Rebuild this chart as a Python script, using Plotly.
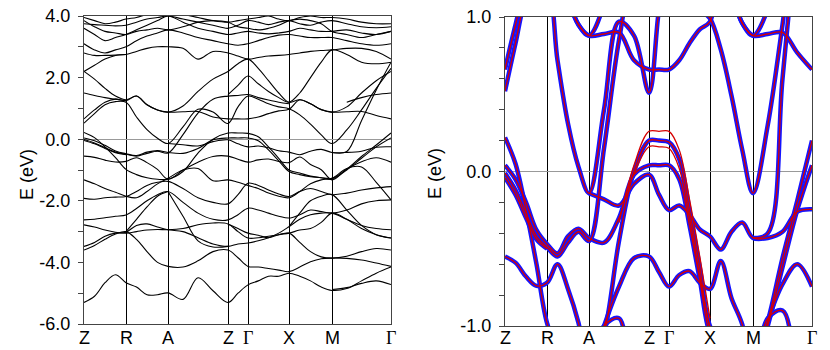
import plotly.graph_objects as go

# ---------------------------------------- K PATH -------------------------------------------------

k_sym = [0, 42, 84, 144, 164, 205, 248, 307]
k_labels = ["Z", "R", "A", "Z", "Γ", "X", "M", "Γ"]

k_grid = [0, 10.5, 21, 31.5, 42, 52.5, 63, 73.5, 84, 99, 114, 129, 144, 154, 164,
          174.25, 184.5, 194.75, 205, 215.75, 226.5, 237.25, 248, 262.75, 277.5, 292.25, 307]

# ---------------------------------------- BANDS (eV) ---------------------------------------------
#            Z     .     .     .     R     .     .     .     A     .     .     .     Z     .     G     .     .     .     X     .     .     .     M     .     .     .     G
band_c1 = [0.66, 0.95, 1.2, 1.3, 1.25, 1.4, 1.12, 0.95, 0.88, 0.89, 0.9, 0.72, 0.66, 0.66, 0.66, 0.72, 0.83, 0.92, 0.97, 1.28, 1.15, 0.96, 0.88, 0.89, 0.9, 0.77, 0.66]
band_c2 = [0.52, 0.83, 1.12, 1.22, 1.2, 0.72, 0.31, 0.03, -0.14, 0.4, 0.97, 0.88, 0.51, 1.05, 1.4, 1.3, 1.15, 1.05, 0.99, 0.79, 0.49, 0.14, -0.14, 0.3, 0.95, 1.65, 2.3]
band_c3 = [2.2, 1.95, 1.65, 1.4, 1.28, 1.4, 1.12, 0.95, 0.88, 1.08, 1.55, 1.95, 2.2, 2.45, 2.6, 2.3, 1.9, 1.5, 1.2, 1.28, 1.15, 0.96, 0.88, 1.05, 1.5, 1.9, 2.2]
band_v1 = [0.22, 0.05, -0.25, -0.6, -0.98, -1.15, -1.25, -1.3, -1.3, -1.05, -0.45, 0.0, 0.2, 0.2, 0.19, 0.08, -0.25, -0.62, -1.0, -1.1, -1.2, -1.25, -1.27, -0.97, -0.56, -0.19, 0.2]
band_v2 = [0.04, -0.05, -0.2, -0.38, -0.47, -0.53, -0.42, -0.37, -0.43, -0.46, -0.3, -0.02, 0.04, 0.04, 0.04, -0.05, -0.35, -0.7, -1.05, -1.15, -1.22, -1.25, -1.3, -1.0, -0.62, -0.25, 0.04]
band_v3 = [-0.01, -0.12, -0.27, -0.42, -0.49, -0.55, -0.46, -0.39, -0.45, 0.15, 0.85, 1.3, 1.4, 1.42, 1.45, 1.35, 1.27, 1.2, 1.15, None, None, None, -0.43, -0.4, 0.6, 1.6, 2.5]
band_v4 = [-0.04, -0.15, -0.3, -0.44, -0.5, None, None, None, -0.14, -0.18, -0.22, -0.08, -0.02, -0.15, -0.25, -0.22, -0.28, -0.375, -0.42, -0.505, -0.39, -0.33, -0.43, -0.43, -0.39, -0.26, -0.245]
band_v5 = [-0.55, -0.59, -0.68, -0.74, -0.72, -0.6, -0.76, -0.98, -1.3, -1.0, -0.745, -0.56, -0.55, -0.65, -0.745, -0.67, -0.645, -0.72, -0.76, -0.58, -0.82, -0.99, -1.32, -0.97, -0.73, -0.6, -0.745]

band_l1 = [-5.3, -5.1, -4.66, -4.4, -4.66, -4.8, -5.05, -5.05, -4.99, -5.2, -4.5, -4.92, -5.3, -5.0, -4.73, -4.6, -4.45, -4.45, -4.35, -4.45, -4.6, -4.8, -4.91, -4.85, -4.6, -4.35, -4.15]
band_l1b = [None] * 22 + [-4.88, -4.82, -4.68, -4.6, -4.72]
band_l2 = [-3.6, -3.45, -3.25, -3.08, -3.0, -3.25, -3.65, -4.0, -4.13, -4.15, -3.95, -3.65, -3.6, -3.85, -4.13, -4.15, -4.2, -4.25, -4.3, -4.15, -3.98, -3.88, -3.86, -3.87, -3.92, -4.02, -4.13]
band_l3 = [-2.78, -2.85, -2.95, -3.02, -3.05, -3.0, -2.95, -2.93, -2.94, -2.9, -2.78, -2.72, -2.75, -3.0, -3.21, -3.2, -3.15, -3.1, -3.05, -3.35, -3.65, -3.82, -3.86, -3.8, -3.65, -3.55, -3.6]
band_l4 = [-3.48, -3.35, -3.15, -3.05, -3.02, -2.8, -2.75, -2.85, -2.94, -3.0, -3.2, -3.4, -3.48, -3.4, -3.37, -3.3, -3.2, -3.05, -2.84, -2.6, -2.45, -2.4, -2.4, -2.6, -2.8, -2.9, -2.94]
band_l5 = [-2.62, -2.6, -2.55, -2.5, -2.46, -2.25, -2.0, -1.8, -1.7, -2.05, -2.4, -2.6, -2.62, -2.45, -2.24, -2.3, -2.4, -2.5, -2.56, -2.45, -2.3, -2.35, -2.4, -2.3, -2.1, -2.0, -1.97]
band_l6 = [-1.92, -1.95, -1.9, -1.88, -1.86, -1.7, -1.5, -1.4, -1.37, -1.6, -1.9, -2.05, -2.1, -1.8, -1.43, -1.5, -1.65, -1.78, -1.86, -1.7, -1.6, -1.7, -1.8, -1.75, -1.65, -1.58, -1.54]
band_l7 = [-1.32, -1.45, -1.6, -1.72, -1.85, -1.9, -1.7, -1.45, -1.27, -1.0, -0.95, -1.35, -1.32, -1.4, -1.5, -1.6, -1.75, -1.85, -1.9, -1.7, -1.45, -1.32, -1.27, -0.95, -0.9, -1.4, -1.97]
band_l8 = [None] * 8 + [-1.7, -2.5, -3.3, -3.5, -3.48] + [None] * 14
band_l9 = [None] * 4 + [-3.0, -2.6, -2.2, -1.85, -1.7] + [None] * 18
band_l10 = [None] * 18 + [-2.84, -2.4, -2.0, -1.85, -1.8, -2.3, -2.8, -3.1, -3.21]
band_l11 = [None] * 12 + [-2.75, -2.9, -3.05, -3.12, -3.2, -3.1, -3.05, -2.95, -2.9, -2.7, -2.4, -2.6, -2.9, -3.1, -3.21]

band_u1 = [2.8, 2.72, 2.72, 2.73, 2.75, 2.85, 2.95, 3.0, 3.0, 2.95, 2.6, 2.85, 2.8, 2.7, 2.6, 2.65, 2.7, 2.72, 2.75, 2.8, 2.85, 2.88, 2.9, 2.95, 2.95, 2.85, 2.6]
band_u2 = [3.1, 2.9, 2.8, 2.9, 3.0, 3.2, 3.35, 3.45, 3.55, 3.45, 3.3, 3.2, 3.1, 3.05, 3.1, 3.2, 3.3, 3.38, 3.4, 3.35, 3.3, 3.3, 3.3, 3.2, 3.1, 3.05, 3.1]
band_u3 = [3.6, 3.4, 3.2, 3.3, 3.4, 3.55, 3.7, 3.85, 4.0, 3.8, 3.6, 3.5, 3.4, 3.45, 3.5, 3.45, 3.42, 3.45, 3.5, 3.6, 3.55, 3.5, 3.5, 3.55, 3.45, 3.4, 3.5]
band_u4 = [3.75, 3.72, 3.7, 3.68, 3.7, 3.8, 3.9, 3.95, 4.0, 3.9, 3.8, 3.7, 3.6, 3.7, 3.85, 3.8, 3.72, 3.8, 3.85, 3.75, 3.7, 3.8, 3.85, 3.75, 3.65, 3.62, 3.65]
band_u5 = [3.95, 3.85, 3.75, 3.8, 3.9, 3.95, 4.05, 4.1, 4.1, 4.05, 3.95, 3.85, 3.8, 3.85, 3.9, 3.95, 4.0, 3.9, 3.85, 3.95, 4.0, 3.95, 3.95, 3.9, 3.8, 3.75, 3.75]
band_u6 = [3.85, 3.65, 3.5, 3.45, 3.4, 3.5, 3.55, 3.6, 3.55, 3.65, 3.8, 3.85, 3.8, 3.65, 3.6, 3.55, 3.6, 3.7, 3.85, 3.9, 3.85, 3.75, 3.5, 3.4, 3.3, 3.4, 3.5]
band_u7 = [1.5, 1.42, 1.35, 1.3, 1.25] + [None] * 22
band_u8 = [2.2, 2.4, 2.6, 2.72, 2.75] + [None] * 22
band_u9 = [None] * 12 + [1.45, 1.75, 2.05, 1.8, 1.55, 1.35, 1.2, 1.5, 2.0, 2.5, 2.9, 2.75, 2.5, 2.45, 2.5]
band_u10 = [None] * 23 + [1.2, 1.35, 1.45, 1.5]

# red-only splits near Z-Gamma (right panel)
band_r1 = [None] * 10 + [-0.33, 0.04, 0.26, 0.26, 0.26, 0.14, -0.18, -0.55, -0.95] + [None] * 8
band_r2 = [None] * 11 + [-0.02, 0.16, 0.16, 0.15, 0.02, -0.3, -0.68, -1.02] + [None] * 8

bands = [band_c1, band_c2, band_c3, band_v1, band_v2, band_v3, band_v4, band_v5,
         band_l1, band_l1b, band_l2, band_l3, band_l4, band_l5, band_l6, band_l7,
         band_l8, band_l9, band_l10, band_l11,
         band_u1, band_u2, band_u3, band_u4, band_u5, band_u6, band_u7, band_u8, band_u9, band_u10]
red_extra = [band_r1, band_r2]

# ---------------------------------------- FIGURE -------------------------------------------------

fig = go.Figure()

for b in bands:
    fig.add_trace(go.Scatter(x=k_grid, y=b, mode="lines", xaxis="x", yaxis="y",
                             line=dict(color="black", width=1.1, shape="spline"),
                             showlegend=False, hoverinfo="skip"))
for b in bands:
    fig.add_trace(go.Scatter(x=k_grid, y=b, mode="lines", xaxis="x2", yaxis="y2",
                             line=dict(color="rgb(20,20,255)", width=4.5, shape="spline"),
                             showlegend=False, hoverinfo="skip"))
for b in bands + red_extra:
    fig.add_trace(go.Scatter(x=k_grid, y=b, mode="lines", xaxis="x2", yaxis="y2",
                             line=dict(color="rgb(215,0,0)", width=1.3, shape="spline"),
                             showlegend=False, hoverinfo="skip"))

font = "Liberation Sans, Arial, sans-serif"

# the page body adds an 8px offset, so positions below are the target pixels minus 8
W, H = 830.0, 350.0

xcommon = dict(range=[0, 307], tickvals=k_sym, showticklabels=False, ticks="",
               showgrid=True, gridcolor="black", gridwidth=1, zeroline=False,
               showline=True, mirror=True, linecolor="#444", linewidth=1,
               automargin=False)

left_ticks = [-6, -5, -4, -3, -2, -1, 0, 1, 2, 3, 4]
left_text = [("%.1f" % v if v % 2 == 0 else "") for v in left_ticks]
right_ticks = [-1.0, -0.8, -0.6, -0.4, -0.2, 0.0, 0.2, 0.4, 0.6, 0.8, 1.0]
right_text = ["-1.0", "", "", "", "", "0.0", "", "", "", "", "1.0"]

ycommon = dict(ticks="outside", ticklen=5, tickcolor="#444", showgrid=False,
               zeroline=True, zerolinecolor="#999", zerolinewidth=1,
               showline=True, mirror=True, linecolor="#444", linewidth=1,
               automargin=False, ticklabelstandoff=4, ticklabeloverflow="allow",
               tickfont=dict(family=font, size=18, color="black"))

# k-point labels under both panels
label_y = 1 - 330 / H
annotations = []
for xref in ["x", "x2"]:
    for kv, lab in zip(k_sym, k_labels):
        fam = "Liberation Serif, Times New Roman, serif" if lab == "Γ" else font
        annotations.append(dict(text=lab, x=kv, y=label_y, xref=xref, yref="paper",
                                showarrow=False, xanchor="center", yanchor="middle",
                                font=dict(family=fam, size=18, color="black")))
annotations += [
    dict(text="E (eV)", x=7 / W, y=1 - 167 / H, xref="paper", yref="paper",
         textangle=-90, showarrow=False, font=dict(family=font, size=18, color="black")),
    dict(text="E (eV)", x=427 / W, y=1 - 166 / H, xref="paper", yref="paper",
         textangle=-90, showarrow=False, font=dict(family=font, size=18, color="black")),
]

fig.update_layout(
    width=830, height=350,
    margin=dict(l=0, r=0, t=0, b=0, autoexpand=False),
    paper_bgcolor="white", plot_bgcolor="white",
    xaxis=dict(domain=[76 / W, 383 / W], anchor="y", **xcommon),
    yaxis=dict(domain=[1 - 316 / H, 1 - 8 / H], anchor="x", range=[-6, 4],
               tickvals=left_ticks, ticktext=left_text, **ycommon),
    xaxis2=dict(domain=[497 / W, 804 / W], anchor="y2", **xcommon),
    yaxis2=dict(domain=[1 - 318 / H, 1 - 9 / H], anchor="x2", range=[-1, 1],
                tickvals=right_ticks, ticktext=right_text, **ycommon),
    annotations=annotations,
)

fig.write_html("out.html")
